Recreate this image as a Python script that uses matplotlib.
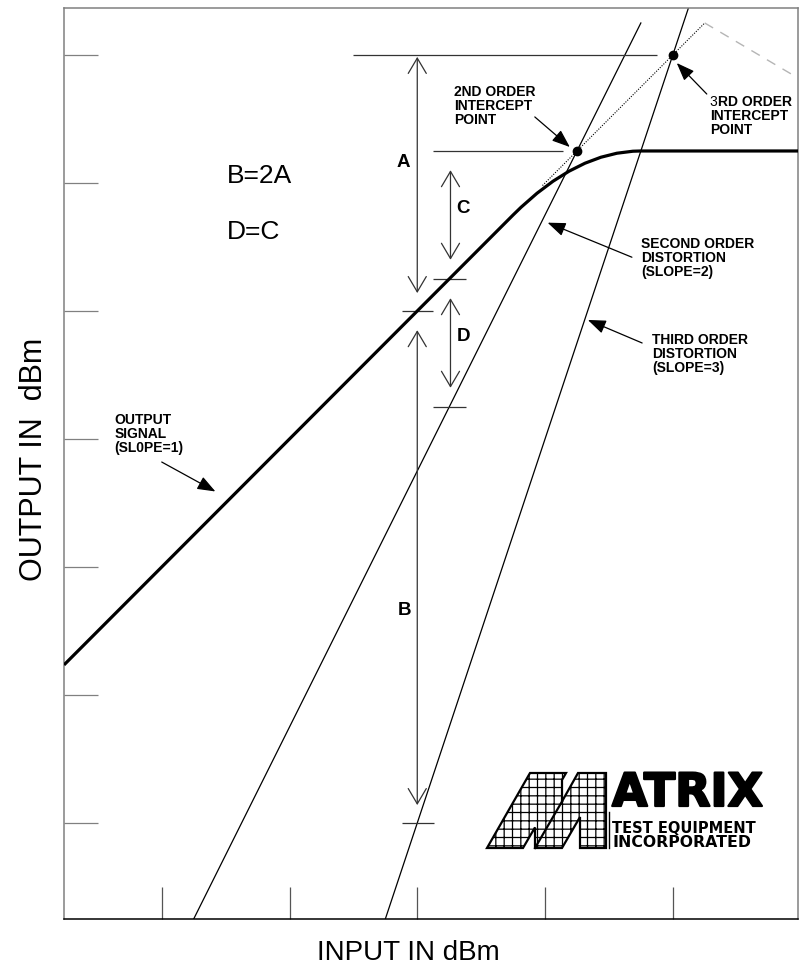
import matplotlib
matplotlib.use("Agg")
import matplotlib.pyplot as plt
import matplotlib.patheffects as pe
from matplotlib.path import Path
from matplotlib.patches import PathPatch, Polygon

# ---- values (dB units, 10 dB per tick) ----
x_ticks = [-40, -30, -20, -10, 0]
y_ticks = [-60, -50, -40, -30, -20, -10, 0]

# output signal: straight slope-1 part, knee (control point = 2nd order IP), flat
sig_in = [-47.65, -12.5, -7.5, -2.5, 9.8]
sig_out = [-47.65, -12.5, -7.5, -7.5, -7.5]

dist2_in = [-37.5, -2.5]
dist2_out = [-67.5, 2.5]
dist3_in = [-22.5, 1.3]
dist3_out = [-67.5, 3.9]

ext_in = [-10.2, 2.5]
ext_out = [-10.2, 2.5]
roll_in = [2.5, 9.8]
roll_out = [2.5, -1.8]

ip_in = [-7.5, 0.0]
ip_out = [-7.5, 0.0]

ref_y = [0, -7.5, -17.5, -20, -27.5, -60]
ref_x0 = [-25, -18.75, -18.75, -21.2, -18.75, -21.2]
ref_x1 = [-1.2, -8.6, -16.2, -18.75, -16.2, -18.7]

dim_names = ["A", "B", "C", "D"]
dim_x = [-20, -20, -17.4, -17.4]
dim_top = [-0.15, -21.5, -9.0, -19.0]
dim_bot = [-18.6, -58.6, -16.0, -26.0]

plt.rcParams['font.family'] = ['Liberation Sans', 'DejaVu Sans']
plt.rcParams['hatch.linewidth'] = 0.9

fig = plt.figure(figsize=(7.99, 9.72), dpi=100)
ax = fig.add_axes([64 / 799, 53 / 972, 734 / 799, 911 / 972])
ax.set_xlim(-47.65, 9.8)
ax.set_ylim(-67.5, 3.67)

# frame and inward ticks
for side in ['left', 'top', 'right']:
    ax.spines[side].set_color('#808080')
    ax.spines[side].set_linewidth(1.1)
ax.spines['bottom'].set_color('black')
ax.spines['bottom'].set_linewidth(1.1)
ax.set_xticks(x_ticks)
ax.set_yticks(y_ticks)
ax.set_xticklabels([])
ax.set_yticklabels([])
ax.tick_params(axis='x', direction='in', length=23, width=0.9, color='#555555')
ax.tick_params(axis='y', direction='in', length=24.5, width=0.9, color='#808080')

# output signal curve
verts = list(zip(sig_in, sig_out))
codes = [Path.MOVETO, Path.LINETO, Path.CURVE3, Path.CURVE3, Path.LINETO]
ax.add_patch(PathPatch(Path(verts, codes), fill=False, lw=2.3, color='black',
                       capstyle='butt', zorder=4))

# distortion lines
ax.plot(dist2_in, dist2_out, color='black', lw=0.9)
ax.plot(dist3_in, dist3_out, color='black', lw=0.9)
ax.plot(ext_in, ext_out, color='black', lw=0.8, ls=(0, (1, 1.3)))
ax.plot(roll_in, roll_out, color='#b5b5b5', lw=1.0, ls=(0, (7, 6)))
ax.plot(ip_in, ip_out, 'o', color='black', ms=6, zorder=5)

# reference levels
ax.hlines(ref_y, ref_x0, ref_x1, color='#333333', lw=0.9)

# dimension arrows
for name, x, y0, y1 in zip(dim_names, dim_x, dim_top, dim_bot):
    ax.annotate('', xy=(x, y1), xytext=(x, y0),
                arrowprops=dict(arrowstyle='<->,head_length=1.1,head_width=0.65',
                                color='#333333', lw=0.9, shrinkA=0, shrinkB=0,
                                mutation_scale=10))

lbl = dict(fontsize=13.5, fontweight='bold', ha='center', va='center')
ax.text(-21.1, -8.4, 'A', **lbl)
ax.text(-21.0, -43.4, 'B', **lbl)
ax.text(-16.4, -12.0, 'C', **lbl)
ax.text(-16.4, -22.0, 'D', **lbl)

ax.text(-34.9, -9.45, 'B=2A', fontsize=19, ha='left', va='center')
ax.text(-34.9, -13.8, 'D=C', fontsize=19, ha='left', va='center')

# callouts
small = dict(fontsize=10, fontweight='bold', ha='left', va='top', linespacing=1.0)
ax.text(-17.1, -2.34, '2ND ORDER\nINTERCEPT\nPOINT', **small)
ax.text(2.9, -3.1, '3', fontsize=10, ha='left', va='top')
ax.annotate('RD ORDER', xy=(2.9, -3.1), xytext=(5.6, 0), textcoords='offset points',
            fontsize=10, fontweight='bold', ha='left', va='top')
ax.annotate('INTERCEPT\nPOINT', xy=(2.9, -3.1), xytext=(0, -10), textcoords='offset points',
            fontsize=10, fontweight='bold', ha='left', va='top', linespacing=1.0)
ax.text(-2.5, -14.2, 'SECOND ORDER\nDISTORTION\n(SLOPE=2)', **small)
ax.text(-1.64, -21.7, 'THIRD ORDER\nDISTORTION\n(SLOPE=3)', **small)
ax.text(-43.7, -28.0, 'OUTPUT\nSIGNAL\n(SL0PE=1)', **small)

pointers = [
    ((-10.8, -4.84), (-8.06, -7.19)),
    ((2.66, -3.05), (0.31, -0.63)),
    ((-3.2, -15.8), (-9.8, -13.1)),
    ((-2.4, -22.5), (-6.65, -20.7)),
    ((-40.0, -31.8), (-35.8, -34.1)),
]
for tail, head in pointers:
    ax.annotate('', xy=head, xytext=tail,
                arrowprops=dict(arrowstyle='-|>,head_length=1.1,head_width=0.42',
                                color='black', lw=0.9, shrinkA=0, shrinkB=0,
                                mutation_scale=10))

# axis titles
fig.text(408 / 799, 1 - 960 / 972, 'INPUT IN dBm', fontsize=20,
         ha='center', va='baseline')
fig.text(42 / 799, 1 - 459 / 972, 'OUTPUT IN  dBm', fontsize=22, rotation=90,
         rotation_mode='anchor', ha='center', va='baseline')

# ---- logo (pixel coordinates) ----
lg = fig.add_axes([480 / 799, 1 - 852 / 972, 290 / 799, 84 / 972])
lg.set_xlim(480, 770)
lg.set_ylim(852, 768)
lg.axis('off')
m_outline = [(487, 848), (530, 773), (566, 773), (562, 780), (562, 801.5),
             (578, 773), (606, 773), (606, 848), (580, 848), (580, 817),
             (562, 848), (535, 848), (535, 827.4), (523, 848)]
lg.add_patch(Polygon(m_outline, closed=True, facecolor='white', edgecolor='black',
                     lw=1.6, hatch='++'))
lg.plot([562, 535], [801.5, 848], color='black', lw=1.6)
lg.plot([609, 609], [812, 848], color='black', lw=1.0)
lg.text(612, 806, 'ATRIX', family='DejaVu Sans', fontweight='heavy', fontsize=33,
        ha='left', va='baseline',
        path_effects=[pe.withStroke(linewidth=1.6, foreground='black')])
lg.text(612, 833, 'TEST EQUIPMENT', family='DejaVu Sans', fontweight='bold',
        fontsize=10.5, ha='left', va='baseline')
lg.text(612, 847, 'INCORPORATED', family='DejaVu Sans', fontweight='bold',
        fontsize=11.3, ha='left', va='baseline')

fig.savefig('out.png', dpi=100)
